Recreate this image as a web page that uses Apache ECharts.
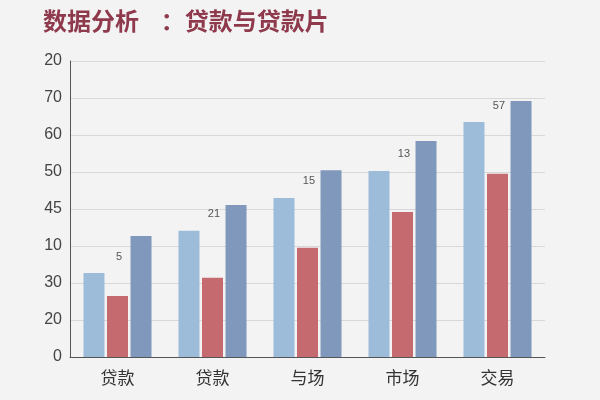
<!DOCTYPE html>
<html><head><meta charset="utf-8">
<script src="https://cdn.jsdelivr.net/npm/echarts@6/dist/echarts.min.js"></script>
<style>html,body{margin:0;background:#f3f3f3}#c{width:600px;height:400px}</style>
</head><body><div id="c"></div>
<script>
const categories = ['贷款','贷款','与场','市场','交易'];
const tickLabels = ['0','20','30','10','45','50','60','70','20'];
const lightBlue = [2.27,3.41,4.30,5.03,6.35];
const redVals = [1.65,2.14,2.95,3.92,4.95];
const darkBlue = [3.27,4.11,5.05,5.84,6.92];
const barLabels = ['5','21','15','13','57'];
const chart = echarts.init(document.getElementById('c'));
chart.setOption({
  backgroundColor:'#f3f3f3',
  title:{text:'数据分析    ：贷款与贷款片',left:38,top:4,textStyle:{color:'#8e3a4c',fontSize:24,fontWeight:'bold',fontFamily:'Noto Sans CJK SC'}},
  grid:{left:70,right:55,top:61,bottom:43},
  xAxis:{type:'category',data:categories,axisTick:{show:false},axisLine:{lineStyle:{color:'#555'}},
    axisLabel:{fontSize:17,color:'#333',margin:12,fontFamily:'Noto Sans CJK SC'}},
  yAxis:{type:'value',min:0,max:8,interval:1,axisLine:{show:true,lineStyle:{color:'#555'}},
    splitLine:{lineStyle:{color:'#d8d8d8'}},
    axisLabel:{fontSize:16,color:'#444',formatter:v=>tickLabels[Math.round(v)]}},
  series:[
    {type:'bar',data:lightBlue,barWidth:21,barGap:'12%',itemStyle:{color:'#9dbcda'},
      label:{show:true,position:'top',offset:[25,-6],fontSize:11,color:'#555',formatter:p=>barLabels[p.dataIndex]}},
    {type:'bar',data:redVals,barWidth:21,itemStyle:{color:'#c56b70'}},
    {type:'bar',data:darkBlue,barWidth:21,itemStyle:{color:'#8098bb'}}
  ]
});
</script></body></html>
